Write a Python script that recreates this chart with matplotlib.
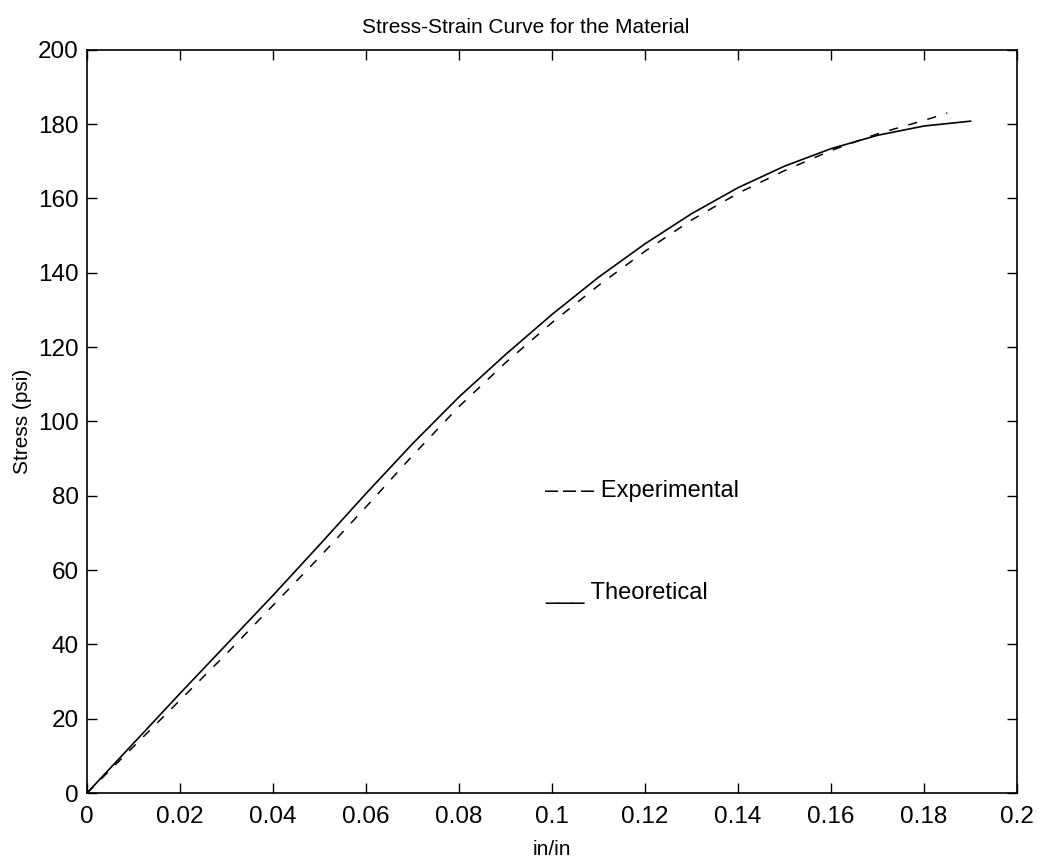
import numpy as np
import matplotlib.pyplot as plt

plt.rcParams['font.family'] = ['Liberation Sans', 'DejaVu Sans']

# strain (in/in) and stress (psi)
strain_theo = [0, 0.01, 0.02, 0.03, 0.04, 0.05, 0.06, 0.07, 0.08, 0.09, 0.10,
               0.11, 0.12, 0.13, 0.14, 0.15, 0.16, 0.17, 0.18, 0.19]
stress_theo = [0, 13.4, 26.8, 40, 53.2, 66.8, 80.6, 94, 106.6, 118, 128.8,
               138.8, 147.8, 155.9, 162.9, 168.7, 173.4, 177, 179.5, 180.8]

strain_exp = [0, 0.01, 0.02, 0.03, 0.04, 0.05, 0.06, 0.07, 0.08, 0.09, 0.10,
              0.11, 0.12, 0.13, 0.14, 0.15, 0.16, 0.17, 0.18, 0.185]
stress_exp = [0, 12.5, 25, 37.5, 50.5, 63.5, 77, 90.8, 104, 115.8, 126.6,
              136.6, 145.8, 154.2, 161.4, 167.5, 172.9, 177.4, 181, 183]

xticks = np.arange(0, 0.201, 0.02)
xticklabels = ['0', '0.02', '0.04', '0.06', '0.08', '0.1', '0.12', '0.14',
               '0.16', '0.18', '0.2']
yticks = np.arange(0, 201, 20)

fig = plt.figure(figsize=(10.41, 8.59), dpi=100)
ax = fig.add_axes([0.0836, 0.0768, 0.8934, 0.8652])

ax.plot(strain_theo, stress_theo, color='black', linewidth=1.2)
ax.plot(strain_exp, stress_exp, color='black', linewidth=1.1,
        linestyle=(0, (6, 7)))

# hand-placed labels, as in the original
ax.text(0.0985, 81.3, '\u2013\u2009\u2013\u2009\u2013 Experimental',
        fontsize=17, va='center', ha='left')
ax.text(0.0985, 51.0, '___ Theoretical', fontsize=17, va='bottom', ha='left')

ax.set_xlim(0, 0.2)
ax.set_ylim(0, 200)
ax.set_xticks(xticks)
ax.set_xticklabels(xticklabels)
ax.set_yticks(yticks)
ax.tick_params(direction='in', length=7, width=1, labelsize=17.5,
               top=True, right=True)
ax.tick_params(axis='x', pad=9)
ax.tick_params(axis='y', pad=6)
for s in ax.spines.values():
    s.set_linewidth(1.2)

ax.set_title('Stress-Strain Curve for the Material', fontsize=15, pad=12,
             x=0.472)
ax.set_xlabel('in/in', fontsize=15, labelpad=9)
ax.set_ylabel('Stress (psi)', fontsize=15, labelpad=4)

fig.savefig('out.png', dpi=100)
